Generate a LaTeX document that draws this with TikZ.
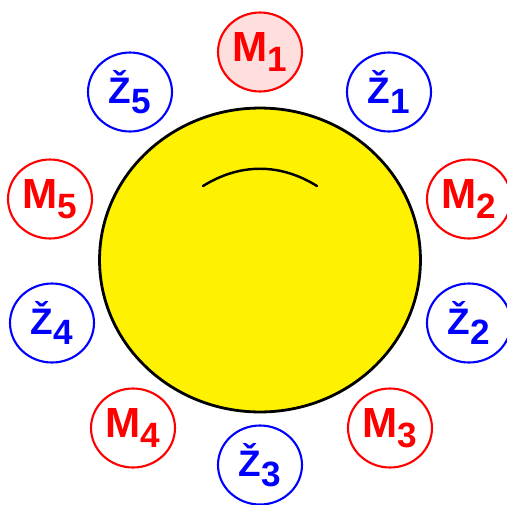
\documentclass[tikz,border=0pt]{standalone}
\usepackage{fontspec}
\setmainfont{Liberation Sans}
\usetikzlibrary{shapes.geometric}

% letter + lowered index
\newcommand{\lbl}[3]{{\fontsize{#1}{#1}\selectfont\bfseries #2}\raisebox{-0.2cm}{\fontsize{20pt}{20pt}\selectfont\bfseries #3}}
\newcommand{\Zcar}{\char"017D}

\tikzset{
  ring/.style={ellipse, draw, line width=1.2pt, inner sep=0pt,
    minimum width=1.68cm, minimum height=1.58cm},
  mring/.style={ring, draw=red, text=red},
  zring/.style={ring, draw=blue, text=blue}
}

\begin{document}
\begin{tikzpicture}[x=0.02cm, y=-0.02cm]

\path[use as bounding box] (0,0) rectangle (507,504);

% big face
\node[ellipse, draw=black, line width=1.6pt, fill=yellow, inner sep=0pt,
      minimum width=6.42cm, minimum height=6.08cm] (sun) at (260,260) {};
\draw[line width=1.4pt, line cap=round] (203,186) .. controls (240,163) and (280,163) .. (317,186);

% M circles
\node[mring, fill=red!13] (m1) at (260,52) {\lbl{24pt}{M}{1}};
\foreach \nm/\x/\y/\k in {m2/469/199/2, m3/390/428/3, m4/133/428/4, m5/50/199/5} {
  \node[mring] (\nm) at (\x,\y) {\lbl{24pt}{M}{\k}};
}

% Z circles
\foreach \nm/\x/\y/\k in {z1/389/92/1, z2/469/323/2, z3/260/465/3, z4/52/323/4, z5/130/92/5} {
  \node[zring] (\nm) at (\x,\y) {\lbl{21pt}{\Zcar}{\k}};
}

\end{tikzpicture}
\end{document}
